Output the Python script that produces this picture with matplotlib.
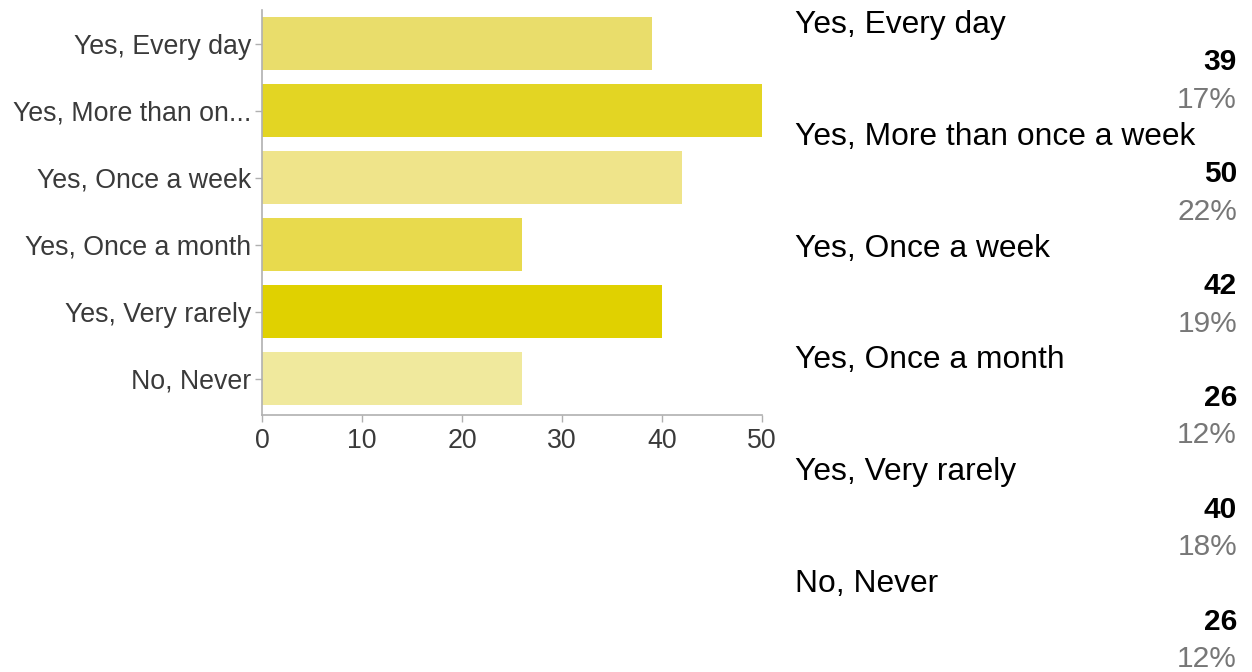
import matplotlib
matplotlib.use("Agg")
import matplotlib.pyplot as plt

# Survey answers (short labels on the axis, full labels in the side list)
axis_labels = ["Yes, Every day", "Yes, More than on...", "Yes, Once a week",
               "Yes, Once a month", "Yes, Very rarely", "No, Never"]
full_labels = ["Yes, Every day", "Yes, More than once a week", "Yes, Once a week",
               "Yes, Once a month", "Yes, Very rarely", "No, Never"]
counts = [39, 50, 42, 26, 40, 26]
percents = ["17%", "22%", "19%", "12%", "18%", "12%"]
bar_colors = ["#e9dd6b", "#e3d523", "#efe48a", "#e8da4d", "#e0d100", "#f0e99d"]
x_ticks = [0, 10, 20, 30, 40, 50]

plt.rcParams["font.family"] = ["Liberation Sans", "DejaVu Sans"]

W, H = 1252, 672
fig = plt.figure(figsize=(W / 100, H / 100), dpi=100)
ax = fig.add_axes([262 / W, 1 - 415 / H, 500 / W, 405 / H])

ypos = list(range(len(counts)))
ax.barh(ypos, counts, height=0.79, color=bar_colors)

ax.set_xlim(0, 50)
ax.set_ylim(5.54, -0.5)
ax.set_xticks(x_ticks)
ax.set_yticks(ypos)
ax.set_yticklabels(axis_labels)

for side in ["top", "right"]:
    ax.spines[side].set_visible(False)
for side in ["left", "bottom"]:
    ax.spines[side].set_color("#b0b0b0")
    ax.spines[side].set_linewidth(1.2)
ax.tick_params(axis="both", colors="#b0b0b0", labelcolor="#3a3a3a",
               labelsize=19.3, length=5, width=1)
ax.tick_params(axis="y", pad=3)
ax.tick_params(axis="x", pad=4)

# Side list: label, bold count, grey percent
def fy(px):
    return 1 - px / H

for i, (lab, n, pct) in enumerate(zip(full_labels, counts, percents)):
    base = 33 + i * 111.8
    fig.text(795 / W, fy(base), lab, fontsize=22.9, color="black",
             va="baseline", ha="left")
    fig.text(1237 / W, fy(base + 37.5), str(n), fontsize=21.5, fontweight="bold",
             color="black", va="baseline", ha="right")
    fig.text(1237 / W, fy(base + 75), pct, fontsize=21.5, color="#777777",
             va="baseline", ha="right")

fig.savefig("out.png", dpi=100)
